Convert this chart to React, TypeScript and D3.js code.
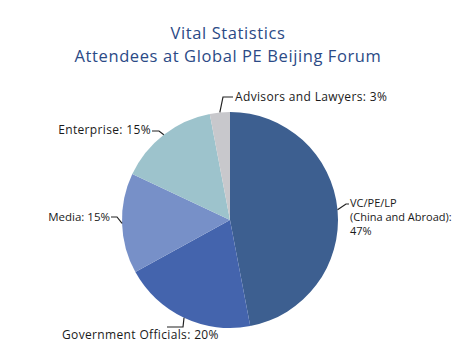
import React from 'react';
import * as d3 from 'd3';

const categories = ['VC/PE/LP (China and Abroad)', 'Government Officials', 'Media', 'Enterprise', 'Advisors and Lawyers'];
const shares = [47, 20, 15, 15, 3];
const colors = ['#3d5f90', '#4464ad', '#7790c8', '#9dc3cc', '#c8c8cc'];

// label text lines per slice
const labelLines = [
  ['VC/PE/LP', '(China and Abroad):', '47%'],
  ['Government Officials: 20%'],
  ['Media: 15%'],
  ['Enterprise: 15%'],
  ['Advisors and Lawyers: 3%'],
];

// where each label sits, its type size, and how its leader bends
const labelLayout = [
  { x: 350, y: 207, anchor: 'start', size: 11, spacing: 0, elbow: [346, 204], end: [349, 204] },
  { x: 62, y: 339, anchor: 'start', size: 12, spacing: 0.35, elbow: [183, 327], end: [167, 327] },
  { x: 110, y: 221, anchor: 'end', size: 11.5, spacing: 0, elbow: [117, 217], end: [111, 217] },
  { x: 151, y: 134, anchor: 'end', size: 12, spacing: 0.35, elbow: [159, 131], end: [152, 131] },
  { x: 235, y: 101, anchor: 'start', size: 12, spacing: 0.35, elbow: [223, 97], end: [233, 97] },
];

const width = 465;
const height = 352;
const cx = 230;
const cy = 220;
const radius = 108;

export default function App() {
  const data = categories.map((c, i) => ({ name: c, value: shares[i] }));
  const pie = d3.pie<any>().sort(null).value(d => d.value);
  const arcs = pie(data);
  const arcGen = d3.arc<any>().innerRadius(0).outerRadius(radius);
  const edge = d3.arc<any>().innerRadius(radius).outerRadius(radius);

  return (
    <svg width={width} height={height} style={{ position: 'absolute', left: 0, top: 0, background: '#fff' }}>
      <g fontFamily="'Open Sans', sans-serif" fill="#2b4a86" fontSize={16.5} textAnchor="middle" letterSpacing={0.6}>
        <text x={228} y={39}>Vital Statistics</text>
        <text x={228} y={61.5}>Attendees at Global PE Beijing Forum</text>
      </g>
      <g transform={`translate(${cx},${cy})`}>
        {arcs.map((a, i) => (
          <path key={i} d={arcGen(a) as string} fill={colors[i]} />
        ))}
      </g>
      <g>
        {arcs.map((a, i) => {
          const [px, py] = edge.centroid(a);
          const L = labelLayout[i];
          const pts = [[cx + px, cy + py], L.elbow, L.end];
          return (
            <path key={i} d={d3.line()(pts as [number, number][]) as string}
              fill="none" stroke="#222" strokeWidth={1.2} />
          );
        })}
      </g>
      <g fontFamily="'Open Sans', sans-serif" fill="#1a1a1a">
        {labelLayout.map((L, i) => (
          <text key={i} x={L.x} y={L.y} textAnchor={L.anchor as any} fontSize={L.size} letterSpacing={L.spacing}>
            {labelLines[i].map((t, j) => (
              <tspan key={j} x={L.x} dy={j === 0 ? 0 : 14}>{t}</tspan>
            ))}
          </text>
        ))}
      </g>
    </svg>
  );
}
